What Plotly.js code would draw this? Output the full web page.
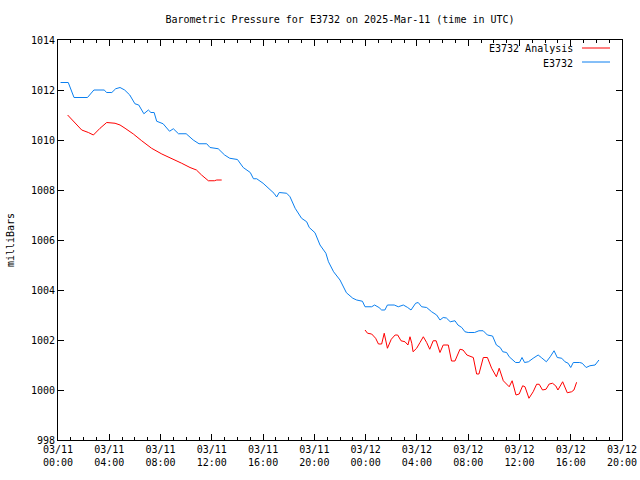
<!DOCTYPE html>
<html>
<head>
<meta charset="utf-8">
<script src="https://cdn.plot.ly/plotly-3.0.1.min.js"></script>
<style>html,body{margin:0;padding:0;background:#fff;}#chart{width:640px;height:480px;}</style>
</head>
<body>
<div id="chart"></div>
<script>
// Hours since 2025-03-11 00:00 UTC
var obsHours = [0.2,0.8,1.25,2.3,2.8,3.6,3.8,4.2,4.5,4.84,5.2,5.6,6.0,6.3,6.7,7.05,7.25,7.5,7.7,8.2,8.7,9.0,9.4,10.0,10.55,11.0,11.6,11.86,12.5,13.0,13.4,14.0,14.45,15.0,15.25,15.5,16.0,16.5,16.85,17.06,17.26,17.84,18.1,18.5,19.0,19.4,19.6,20.05,20.44,20.9,21.1,21.5,22.0,22.5,23.0,23.3,23.75,23.95,24.47,24.7,25.04,25.25,25.5,25.7,26.23,26.55,26.94,27.28,27.54,27.9,28.1,28.37,28.76,29.15,29.54,29.8,30.05,30.3,30.6,30.97,31.2,31.5,31.75,32.0,32.5,32.84,33.17,33.5,33.9,34.2,34.5,34.7,35.0,35.2,35.5,35.7,36.0,36.2,36.4,36.7,37.07,37.46,37.7,38.1,38.4,38.7,38.95,39.3,39.55,39.8,40.0,40.2,40.7,40.9,41.2,41.5,41.9,42.2];
var obsValues = [1012.3,1012.3,1011.7,1011.7,1012.0,1012.0,1011.9,1011.9,1012.05,1012.1,1012.0,1011.8,1011.45,1011.4,1011.05,1011.2,1011.1,1011.1,1010.75,1010.65,1010.35,1010.45,1010.25,1010.25,1010.0,1009.85,1009.85,1009.7,1009.65,1009.4,1009.27,1009.22,1008.9,1008.7,1008.45,1008.45,1008.27,1008.05,1007.87,1007.72,1007.9,1007.87,1007.73,1007.27,1006.87,1006.73,1006.5,1006.29,1005.8,1005.47,1005.13,1004.73,1004.4,1003.89,1003.67,1003.6,1003.55,1003.33,1003.33,1003.4,1003.3,1003.2,1003.2,1003.4,1003.4,1003.33,1003.4,1003.3,1003.2,1003.47,1003.5,1003.33,1003.3,1003.13,1003.0,1002.8,1002.9,1002.88,1002.73,1002.77,1002.6,1002.5,1002.33,1002.3,1002.3,1002.37,1002.37,1002.2,1002.16,1001.8,1001.7,1001.53,1001.5,1001.33,1001.2,1001.1,1001.1,1001.3,1001.1,1001.13,1001.27,1001.4,1001.3,1001.13,1001.33,1001.57,1001.3,1001.27,1001.13,1001.07,1000.9,1001.1,1001.1,1001.07,1000.9,1000.97,1001.0,1001.2];

var anaHours = [0.75,1.2,1.46,1.85,2.37,2.76,3.28,3.8,4.45,4.84,5.23,5.88,6.53,7.3,8.1,8.87,9.65,10.3,10.8,11.2,11.73,12.2,12.38,12.77,
  18.0,
  23.95,24.15,24.47,24.78,25.0,25.25,25.45,25.56,25.7,26.0,26.3,26.5,26.76,27.07,27.3,27.46,27.6,27.7,27.98,28.24,28.5,28.76,29.0,29.27,29.5,29.8,30.05,30.45,30.7,30.97,31.36,31.6,31.9,32.4,32.66,32.84,33.18,33.5,33.83,34.2,34.42,34.74,35.2,35.43,35.73,35.98,36.25,36.43,36.74,37.07,37.34,37.54,37.8,38.07,38.32,38.58,38.84,39.0,39.37,39.73,40.07,40.25,40.46];
var anaValues = [1011.0,1010.77,1010.6,1010.4,1010.3,1010.2,1010.47,1010.7,1010.67,1010.6,1010.47,1010.24,1009.97,1009.67,1009.44,1009.27,1009.07,1008.9,1008.8,1008.6,1008.37,1008.37,1008.4,1008.4,
  null,
  1002.4,1002.27,1002.24,1002.07,1001.84,1001.84,1002.27,1002.03,1001.67,1002.03,1002.2,1002.2,1001.97,1001.93,1001.8,1002.13,1001.87,1001.53,1001.67,1001.9,1002.13,1001.9,1001.63,1001.97,1001.97,1001.5,1001.8,1001.8,1001.16,1001.16,1001.63,1001.6,1001.4,1001.3,1000.64,1000.64,1001.3,1001.3,1000.87,1000.53,1000.87,1000.37,1000.13,1000.37,999.8,999.84,1000.17,1000.13,999.67,999.93,1000.23,1000.23,1000.0,1000.03,1000.24,1000.27,1000.16,1000.0,1000.33,999.89,999.93,1000.0,1000.31];

var seriesNames = ["E3732 Analysis", "E3732"];
var yTicks = [998,1000,1002,1004,1006,1008,1010,1012,1014];

var baseMs = Date.UTC(2025, 2, 11, 0, 0, 0);
function toDate(h) {
  var d = new Date(baseMs + h * 3600000);
  return d.toISOString().replace('T', ' ').substring(0, 19);
}
var font = "'DejaVu Sans Mono', 'Liberation Mono', monospace";
var red = '#ff0000', blue = '#0a7ff0';

var traces = [
  {x: anaHours.map(toDate), y: anaValues, type: 'scatter', mode: 'lines', name: seriesNames[0],
   line: {color: red, width: 1}, connectgaps: false, showlegend: false},
  {x: obsHours.map(toDate), y: obsValues, type: 'scatter', mode: 'lines', name: seriesNames[1],
   line: {color: blue, width: 1}, showlegend: false}
];

function px2x(p) { return (p - 58) / 564; }
function px2y(p) { return 1 - (p - 40) / 400; }

var layout = {
  width: 640, height: 480,
  margin: {l: 58, r: 18, t: 40, b: 40, pad: 0},
  paper_bgcolor: '#fff', plot_bgcolor: '#fff',
  font: {family: font, size: 10, color: '#000'},
  title: {text: 'Barometric Pressure for E3732 on 2025-Mar-11 (time in UTC)', font: {family: font, size: 10, color: '#000'},
          x: 0.5, xref: 'paper', xanchor: 'center', y: 1 - 19/480, yref: 'container', yanchor: 'middle'},
  xaxis: {
    type: 'date', range: [toDate(0), toDate(44)],
    dtick: 4 * 3600000, tick0: toDate(0), tickformat: '%m/%d<br>%H:%M',
    ticks: 'inside', ticklen: 6, tickcolor: '#000', tickwidth: 1,
    minor: {dtick: 3600000, ticks: 'inside', ticklen: 3, tickcolor: '#000', showgrid: false},
    showline: true, linecolor: '#000', linewidth: 1, mirror: 'allticks',
    showgrid: false, zeroline: false, tickfont: {family: font, size: 10, color: '#000'}
  },
  yaxis: {
    range: [998, 1014], tickvals: yTicks, ticktext: yTicks.map(String),
    ticks: 'inside', ticklen: 6, tickcolor: '#000', tickwidth: 1,
    showline: true, linecolor: '#000', linewidth: 1, mirror: 'allticks',
    showgrid: false, zeroline: false, tickfont: {family: font, size: 10, color: '#000'},
    title: {text: 'milliBars', font: {family: font, size: 10, color: '#000'}, standoff: 14}
  },
  annotations: [
    {text: seriesNames[0], xref: 'paper', yref: 'paper', x: px2x(574), y: px2y(49), xanchor: 'right', yanchor: 'middle', showarrow: false, borderpad: 0, font: {family: font, size: 10, color: '#000'}},
    {text: seriesNames[1], xref: 'paper', yref: 'paper', x: px2x(574), y: px2y(63), xanchor: 'right', yanchor: 'middle', showarrow: false, borderpad: 0, font: {family: font, size: 10, color: '#000'}}
  ],
  shapes: [
    {type: 'line', xref: 'paper', yref: 'paper', x0: px2x(582), x1: px2x(610), y0: px2y(48), y1: px2y(48), line: {color: red, width: 1}},
    {type: 'line', xref: 'paper', yref: 'paper', x0: px2x(582), x1: px2x(610), y0: px2y(62), y1: px2y(62), line: {color: blue, width: 1}}
  ],
  showlegend: false
};

Plotly.newPlot('chart', traces, layout, {displayModeBar: false, staticPlot: true});
</script>
</body>
</html>
